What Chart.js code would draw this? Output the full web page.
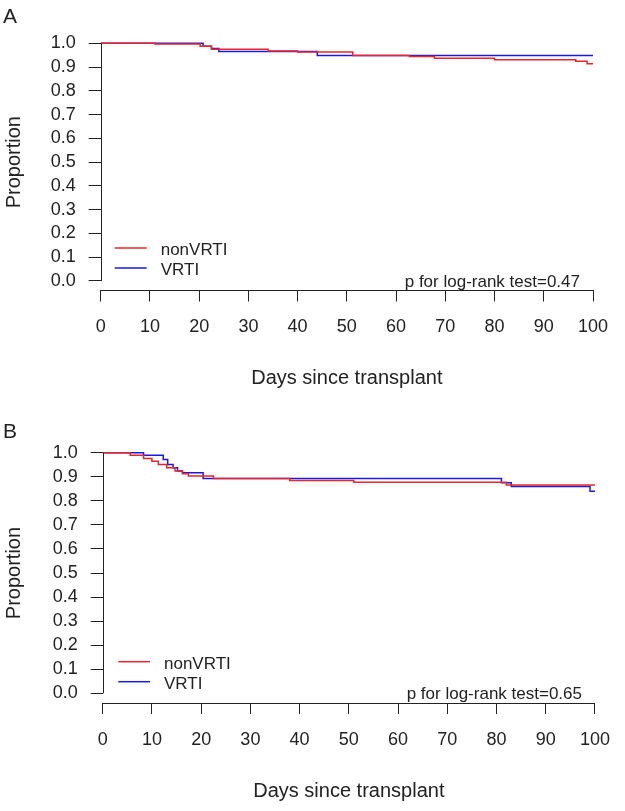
<!DOCTYPE html>
<html><head><meta charset="utf-8">
<script src="https://cdn.jsdelivr.net/npm/chart.js@4.4.1/dist/chart.umd.min.js"></script>
<style>
html,body{margin:0;padding:0;background:#fff;}
#wrap{position:relative;width:625px;height:811px;}
canvas{position:absolute;left:0;}
#cA{top:0;} #cB{top:405px;}
</style></head>
<body><div id="wrap"><canvas id="cA" width="625" height="405"></canvas><canvas id="cB" width="625" height="406"></canvas></div>
<script>
// ---- data ----
const seriesNames = ['nonVRTI', 'VRTI'];
const xTicks = [0,10,20,30,40,50,60,70,80,90,100];
const yTicks = [0,0.1,0.2,0.3,0.4,0.5,0.6,0.7,0.8,0.9,1.0];

// Panel A
const aNonDays = [0, 11, 20.2, 22.5, 34, 40, 51.2, 62.7, 67.8, 80, 96.5, 98.8, 100];
const aNonSurv = [1.0, 0.997, 0.988, 0.975, 0.968, 0.963, 0.949, 0.944, 0.937, 0.931, 0.924, 0.914, 0.914];
const aVDays = [0, 20.8, 22.5, 24, 44, 100];
const aVSurv = [1.0, 0.988, 0.978, 0.966, 0.949, 0.949];
const aPText = 'p for log-rank test=0.47';

// Panel B
const bNonDays = [0, 5.6, 8.3, 10, 11.3, 13, 14.7, 16.2, 17.4, 22.5, 38, 51, 82, 100];
const bNonSurv = [1.0, 0.990, 0.976, 0.965, 0.951, 0.9375, 0.924, 0.9125, 0.903, 0.893, 0.885, 0.877, 0.866, 0.866];
const bVDays = [0, 8.3, 12.3, 13.2, 14.3, 15.2, 16.2, 20.4, 81, 83, 99, 100];
const bVSurv = [1.0, 0.990, 0.972, 0.951, 0.9375, 0.924, 0.917, 0.893, 0.875, 0.86, 0.84, 0.84];
const bPText = 'p for log-rank test=0.65';

const colors = ['#e8252b', '#1a1adf'];
const FONT = 'Arial, "Liberation Sans", sans-serif';
const AX = '#222';

function pts(d, s){ return d.map((v,i)=>({x:v, y:s[i]})); }

function makeChart(id, letter, nonD, nonS, vD, vS, pText, geo){
  const overlay = {
    id:'overlay'+id,
    afterDraw(chart){
      const c = chart.ctx, ca = chart.chartArea;
      const ys = chart.scales.y;
      c.save();
      c.strokeStyle = AX; c.lineWidth = 1;
      c.beginPath();
      c.moveTo(Math.round(ca.left)+0.5, ys.getPixelForValue(yTicks[0]));
      c.lineTo(Math.round(ca.left)+0.5, ys.getPixelForValue(yTicks[yTicks.length-1]));
      c.stroke();
      c.font = '17px ' + FONT;
      c.textBaseline = 'middle';
      c.textAlign = 'left';
      chart.data.datasets.forEach((ds,i)=>{
        const ly = geo.legTop + i*geo.legGap;
        c.strokeStyle = ds.borderColor; c.lineWidth = 1.5;
        c.beginPath(); c.moveTo(ca.left+geo.legX0, ly); c.lineTo(ca.left+geo.legX1, ly); c.stroke();
        c.fillStyle = '#222';
        c.fillText(ds.label, ca.left+geo.legTX, ly+2.5);
      });
      c.font = '17px ' + FONT;
      c.textAlign = 'right'; c.textBaseline = 'alphabetic';
      c.fillStyle = '#222';
      c.fillText(pText, ca.right - 13, ca.bottom - 4);
      c.font = '21px ' + FONT;
      c.textAlign = 'left';
      c.fillText(letter, 3, geo.letterY);
      c.restore();
    }
  };
  return new Chart(document.getElementById(id), {
    type:'line',
    data:{datasets:[
      {label:seriesNames[0], data:pts(nonD,nonS), borderColor:colors[0], borderWidth:1.5, stepped:'before', pointRadius:0, fill:false},
      {label:seriesNames[1], data:pts(vD,vS), borderColor:colors[1], borderWidth:1.5, stepped:'before', pointRadius:0, fill:false}
    ]},
    options:{
      responsive:false, animation:false, devicePixelRatio:1,
      layout:{padding:{left:0, right:geo.padRight, top:geo.padTop, bottom:0}},
      plugins:{legend:{display:false}, tooltip:{enabled:false}},
      scales:{
        x:{type:'linear', min:0, max:100,
          afterBuildTicks(s){ s.ticks = xTicks.map(v=>({value:v})); },
          afterFit(s){ s.height = geo.xH; },
          ticks:{font:{size:18, family:FONT}, color:'#222', padding:15, maxRotation:0, autoSkip:false},
          grid:{drawOnChartArea:false, drawTicks:true, tickLength:11, color:AX, lineWidth:1},
          border:{display:true, color:AX, width:1},
          title:{display:true, text:'Days since transplant', font:{size:20, family:FONT}, color:'#222', padding:{top:0,bottom:geo.xTitlePad}}
        },
        y:{type:'linear', min:-0.04, max:1.04,
          afterBuildTicks(s){ s.ticks = yTicks.map(v=>({value:v})); },
          afterFit(s){ s.width = geo.yW; },
          ticks:{font:{size:18, family:FONT}, color:'#222', padding:13, callback:(v)=>Number(v).toFixed(1), autoSkip:false},
          grid:{drawOnChartArea:false, drawTicks:true, tickLength:12, color:AX, lineWidth:1},
          border:{display:false},
          title:{display:true, text:'Proportion', font:{size:20, family:FONT}, color:'#222', padding:{top:2,bottom:0}}
        }
      }
    },
    plugins:[overlay]
  });
}

makeChart('cA','A', aNonDays, aNonSurv, aVDays, aVSurv, aPText,
  {padRight:32, padTop:33.8, yW:100.7, xH:405-290.5, xTitlePad:15, legTop:248, legGap:20, legX0:14, legX1:46, legTX:60, letterY:23});
makeChart('cB','B', bNonDays, bNonSurv, bVDays, bVSurv, bPText,
  {padRight:30, padTop:38.1, yW:102.7, xH:406-298, xTitlePad:8, legTop:661.7-405, legGap:20, legX0:15.6, legX1:47.3, legTX:61.3, letterY:438-405});
</script>
</body></html>
